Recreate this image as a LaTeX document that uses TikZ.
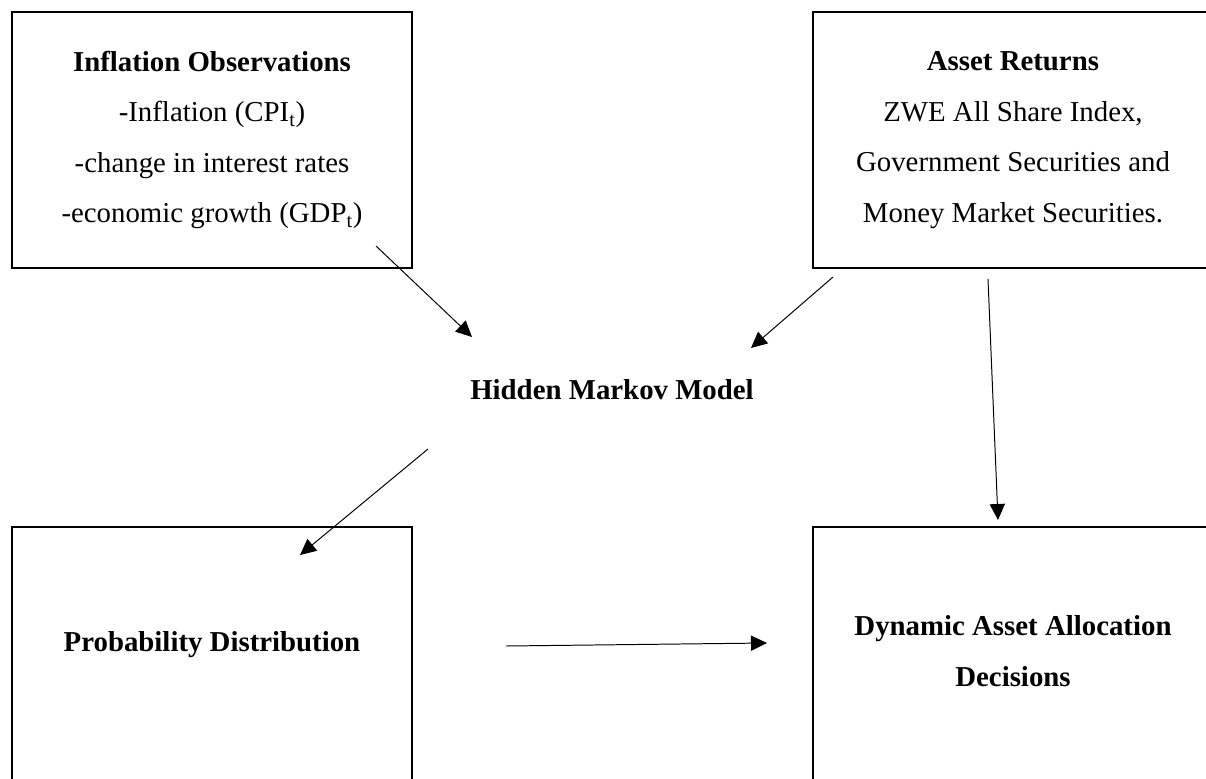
\documentclass[tikz,border=0pt]{standalone}
\usepackage{fontspec}
\setmainfont{Liberation Serif}
\usetikzlibrary{arrows.meta}

\begin{document}
\begin{tikzpicture}[x=0.025cm, y=-0.025cm,
    box/.style={draw, line width=1.4pt, minimum width=10cm, minimum height=6.4cm,
        inner sep=0pt, align=center, font=\fontsize{20.5}{36}\selectfont},
    link/.style={line width=0.7pt, -{Triangle[length=0.4cm, width=0.38cm]}}]
    \useasboundingbox (0,0) rectangle (1206,778);
    \clip (0,0) rectangle (1206,778);

    % Inputs
    \node[box] (inflation) at (212, 140) {\textbf{Inflation Observations}\\
        -Inflation (CPI\textsubscript{t})\\
        -change in interest rates\\
        -economic growth (GDP\textsubscript{t})};
    \node[box] (returns) at (1013, 140) {\textbf{Asset Returns}\\
        ZWE All Share Index,\\
        Government Securities and\\
        Money Market Securities.};

    % Model
    \node[font=\fontsize{20.5}{36}\selectfont\bfseries] (hmm) at (612, 390) {Hidden Markov Model};

    % Outputs
    \node[box] (prob) at (212, 655) {\textbf{Probability Distribution}\\[-17pt]};
    \node[box] (decision) at (1013, 655) {\textbf{Dynamic Asset Allocation}\\
        \textbf{Decisions}\\[-30pt]};

    % Arrow ends
    \coordinate (infl-out) at (376, 246);
    \coordinate (hmm-in1) at (472, 337);
    \coordinate (ret-out1) at (833, 277);
    \coordinate (hmm-in2) at (751, 348);
    \coordinate (hmm-out) at (428, 449);
    \coordinate (prob-in) at (300, 555);
    \coordinate (ret-out2) at (988, 279);
    \coordinate (dec-in1) at (998, 520);
    \coordinate (prob-out) at (506, 646);
    \coordinate (dec-in2) at (767, 643);

    \draw[link] (infl-out) -- (hmm-in1);
    \draw[link] (ret-out1) -- (hmm-in2);
    \draw[link] (hmm-out) -- (prob-in);
    \draw[link] (ret-out2) -- (dec-in1);
    \draw[link] (prob-out) -- (dec-in2);
\end{tikzpicture}
\end{document}
